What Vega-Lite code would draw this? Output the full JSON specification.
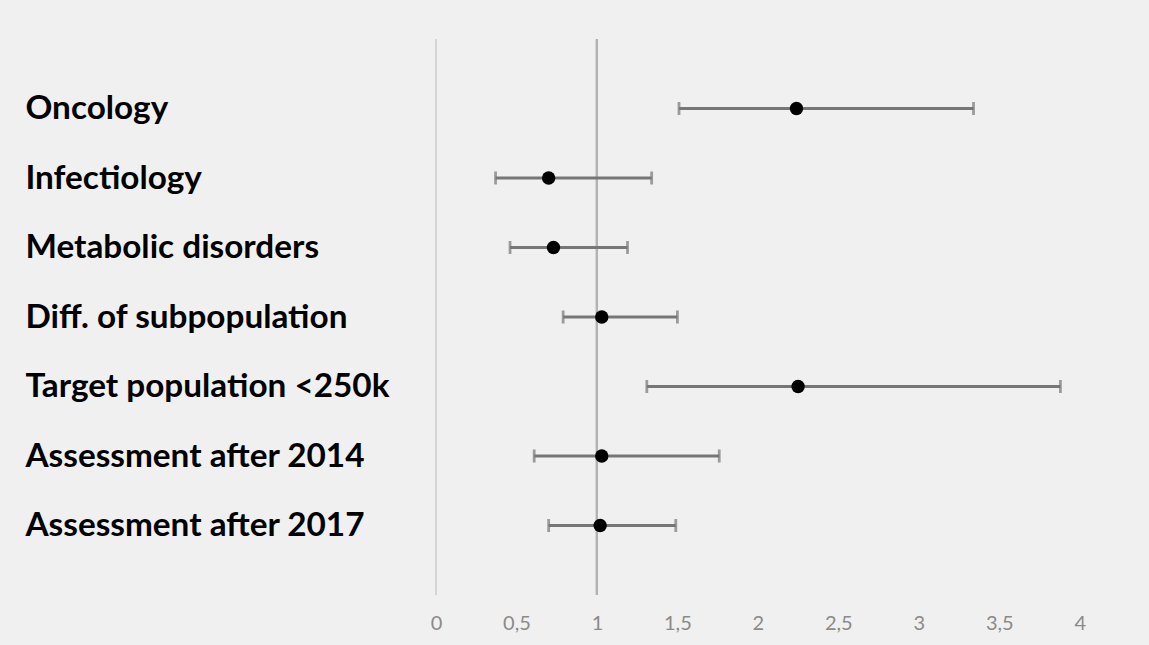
{
  "$schema": "https://vega.github.io/schema/vega-lite/v6.json",
  "width": 1149,
  "height": 645,
  "autosize": {"type": "fit", "contains": "padding"},
  "padding": {"left": 25, "top": 38, "right": 21, "bottom": 12},
  "background": "#f1f0f1",
  "config": {"view": {"stroke": null}},
  "data": {
    "values": [
      {"category": "Oncology", "low": 1.51, "est": 2.24, "high": 3.34},
      {"category": "Infectiology", "low": 0.37, "est": 0.70, "high": 1.34},
      {"category": "Metabolic disorders", "low": 0.46, "est": 0.73, "high": 1.19},
      {"category": "Diff. of subpopulation", "low": 0.79, "est": 1.03, "high": 1.50},
      {"category": "Target population <250k", "low": 1.31, "est": 2.25, "high": 3.88},
      {"category": "Assessment after 2014", "low": 0.61, "est": 1.03, "high": 1.76},
      {"category": "Assessment after 2017", "low": 0.70, "est": 1.02, "high": 1.49}
    ]
  },
  "layer": [
    {
      "mark": {"type": "rule", "color": "#d4d4d4", "strokeWidth": 2},
      "encoding": {"x": {"datum": 0, "type": "quantitative"}}
    },
    {
      "mark": {"type": "rule", "color": "#b2b2b2", "strokeWidth": 2},
      "encoding": {"x": {"datum": 1, "type": "quantitative"}}
    },
    {
      "mark": {"type": "rule", "color": "#767676", "strokeWidth": 2.8},
      "encoding": {
        "y": {"field": "category", "type": "nominal", "sort": null, "scale": {"type": "point", "padding": 1},
          "axis": {"title": null, "domain": false, "ticks": false, "labelAlign": "left", "labelPadding": 411, "labelLimit": 500,
            "labelFont": "Lato", "labelFontSize": 33.3, "labelFontWeight": "bold", "labelColor": "#000000"}},
        "x": {"field": "low", "type": "quantitative", "scale": {"domain": [0, 4.3], "nice": false, "zero": false},
          "axis": {"title": null, "grid": false, "domain": false, "ticks": false, "labelFlush": false, "values": [0, 0.5, 1, 1.5, 2, 2.5, 3, 3.5, 4],
            "labelExpr": "replace(toString(datum.value), '.', ',')", "labelFont": "Lato", "labelFontSize": 20, "labelColor": "#8a8a8a", "labelPadding": 18}},
        "x2": {"field": "high"}
      }
    },
    {
      "mark": {"type": "tick", "color": "#767676", "thickness": 2.8, "size": 13},
      "encoding": {
        "y": {"field": "category", "type": "nominal", "sort": null},
        "x": {"field": "low", "type": "quantitative"}
      }
    },
    {
      "mark": {"type": "tick", "color": "#767676", "thickness": 2.8, "size": 13},
      "encoding": {
        "y": {"field": "category", "type": "nominal", "sort": null},
        "x": {"field": "high", "type": "quantitative"}
      }
    },
    {
      "mark": {"type": "circle", "color": "#000000", "size": 180, "opacity": 1},
      "encoding": {
        "y": {"field": "category", "type": "nominal", "sort": null},
        "x": {"field": "est", "type": "quantitative"}
      }
    }
  ]
}
